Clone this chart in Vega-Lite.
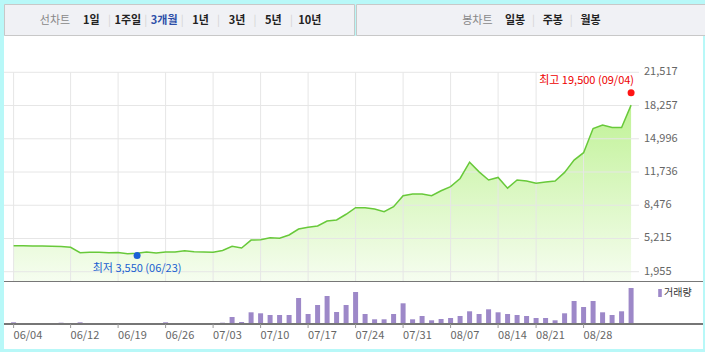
{
  "$schema": "https://vega.github.io/schema/vega-lite/v6.json",
  "background": "#b8f8f8",
  "padding": {"left": 3, "top": 3, "right": 3, "bottom": 3},
  "spacing": 0,
  "resolve": {"scale": {"color": "independent"}, "legend": {"color": "independent"}},
  "config": {"font": "Noto Sans CJK KR", "view": {"stroke": null}},
  "datasets": {
    "px": [
      {"i":0,"d":"06/04","p":4505,"v":170000},
      {"i":1,"d":"06/05","p":4500,"v":100000},
      {"i":2,"d":"06/08","p":4480,"v":100000},
      {"i":3,"d":"06/09","p":4470,"v":100000},
      {"i":4,"d":"06/10","p":4460,"v":100000},
      {"i":5,"d":"06/11","p":4430,"v":130000},
      {"i":6,"d":"06/12","p":4350,"v":100000},
      {"i":7,"d":"06/15","p":3820,"v":170000},
      {"i":8,"d":"06/16","p":3860,"v":100000},
      {"i":9,"d":"06/17","p":3860,"v":100000},
      {"i":10,"d":"06/18","p":3820,"v":100000},
      {"i":11,"d":"06/19","p":3840,"v":100000},
      {"i":12,"d":"06/22","p":3720,"v":100000},
      {"i":13,"d":"06/23","p":3760,"v":100000},
      {"i":14,"d":"06/24","p":3890,"v":100000},
      {"i":15,"d":"06/25","p":3790,"v":100000},
      {"i":16,"d":"06/26","p":3890,"v":170000},
      {"i":17,"d":"06/29","p":3890,"v":100000},
      {"i":18,"d":"06/30","p":4015,"v":100000},
      {"i":19,"d":"07/01","p":3920,"v":100000},
      {"i":20,"d":"07/02","p":3890,"v":100000},
      {"i":21,"d":"07/03","p":3860,"v":100000},
      {"i":22,"d":"07/06","p":4030,"v":130000},
      {"i":23,"d":"07/07","p":4450,"v":700000},
      {"i":24,"d":"07/08","p":4280,"v":200000},
      {"i":25,"d":"07/09","p":5060,"v":1170000},
      {"i":26,"d":"07/10","p":5090,"v":1070000},
      {"i":27,"d":"07/13","p":5290,"v":900000},
      {"i":28,"d":"07/14","p":5230,"v":900000},
      {"i":29,"d":"07/15","p":5560,"v":900000},
      {"i":30,"d":"07/16","p":6140,"v":2600000},
      {"i":31,"d":"07/17","p":6310,"v":1000000},
      {"i":32,"d":"07/20","p":6440,"v":1900000},
      {"i":33,"d":"07/21","p":6930,"v":2800000},
      {"i":34,"d":"07/22","p":7030,"v":1200000},
      {"i":35,"d":"07/23","p":7590,"v":1900000},
      {"i":36,"d":"07/24","p":8230,"v":3200000},
      {"i":37,"d":"07/27","p":8230,"v":1000000},
      {"i":38,"d":"07/28","p":8110,"v":470000},
      {"i":39,"d":"07/29","p":7840,"v":470000},
      {"i":40,"d":"07/30","p":8330,"v":1000000},
      {"i":41,"d":"07/31","p":9410,"v":2070000},
      {"i":42,"d":"08/03","p":9580,"v":470000},
      {"i":43,"d":"08/04","p":9580,"v":800000},
      {"i":44,"d":"08/05","p":9410,"v":370000},
      {"i":45,"d":"08/06","p":9900,"v":500000},
      {"i":46,"d":"08/07","p":10300,"v":600000},
      {"i":47,"d":"08/10","p":11100,"v":800000},
      {"i":48,"d":"08/11","p":12700,"v":1270000},
      {"i":49,"d":"08/12","p":11750,"v":1000000},
      {"i":50,"d":"08/13","p":10950,"v":1470000},
      {"i":51,"d":"08/14","p":11200,"v":1170000},
      {"i":52,"d":"08/18","p":10150,"v":1000000},
      {"i":53,"d":"08/19","p":10950,"v":900000},
      {"i":54,"d":"08/20","p":10850,"v":800000},
      {"i":55,"d":"08/21","p":10630,"v":600000},
      {"i":56,"d":"08/24","p":10750,"v":600000},
      {"i":57,"d":"08/25","p":10850,"v":370000},
      {"i":58,"d":"08/26","p":11700,"v":1070000},
      {"i":59,"d":"08/27","p":12900,"v":2300000},
      {"i":60,"d":"08/28","p":13630,"v":1700000},
      {"i":61,"d":"08/31","p":16000,"v":2300000},
      {"i":62,"d":"09/01","p":16350,"v":1170000},
      {"i":63,"d":"09/02","p":16100,"v":900000},
      {"i":64,"d":"09/03","p":16100,"v":1270000},
      {"i":65,"d":"09/04","p":18300,"v":3600000}
    ],
    "grid": [{"t":1955},{"t":5215.33},{"t":8475.67},{"t":11736},{"t":14996.33},{"t":18256.67},{"t":21517}],
    "ext": [
      {"i":65,"d":"09/04","p":19500,"k":"최고","lab":"최고 19,500 (09/04)"},
      {"i":13,"d":"06/23","p":3550,"k":"최저","lab":"최저 3,550 (06/23)"}
    ],
    "menuL": [
      {"t":"선차트","c":"label","sep":false},
      {"t":"1일","c":"item","sep":true},
      {"t":"1주일","c":"item","sep":true},
      {"t":"3개월","c":"sel","sep":true},
      {"t":"1년","c":"item","sep":true},
      {"t":"3년","c":"item","sep":true},
      {"t":"5년","c":"item","sep":true},
      {"t":"10년","c":"item","sep":false}
    ],
    "menuR": [
      {"t":"봉차트","c":"label","sep":false},
      {"t":"일봉","c":"item","sep":true},
      {"t":"주봉","c":"item","sep":true},
      {"t":"월봉","c":"item","sep":false}
    ]
  },
  "vconcat": [
    {
      "hconcat": [
        {
          "width": 350, "height": 31,
          "view": {"fill": "#f0f1f5", "stroke": "#c8c8c8"},
          "data": {"name": "menuL"},
          "encoding": {"x": {"field": "t", "type": "nominal", "sort": null, "scale": {"type": "point", "padding": 0, "range": [51, 305.8]}, "axis": null}},
          "layer": [
            {"transform": [{"filter": "datum.c === 'label'"}],
             "mark": {"type": "text", "fontSize": 11, "color": "#888", "dy": 1.5},
             "encoding": {"text": {"field": "t"}}},
            {"transform": [{"filter": "datum.c !== 'label'"}],
             "mark": {"type": "text", "fontSize": 11, "fontWeight": "bold", "dy": 1.5},
             "encoding": {"text": {"field": "t"}, "color": {"condition": {"test": "datum.c === 'sel'", "value": "#2d4ea8"}, "value": "#222"}}},
            {"transform": [{"filter": "datum.sep"}],
             "mark": {"type": "text", "fontSize": 11, "color": "#d4d4d4", "dx": 18, "dy": 1},
             "encoding": {"text": {"value": "|"}}}
          ]
        },
        {
          "width": 349, "height": 31,
          "view": {"fill": "#f0f1f5", "stroke": "#c8c8c8"},
          "data": {"name": "menuR"},
          "encoding": {"x": {"field": "t", "type": "nominal", "sort": null, "scale": {"type": "point", "padding": 0, "range": [121.4, 234.5]}, "axis": null}},
          "layer": [
            {"transform": [{"filter": "datum.c === 'label'"}],
             "mark": {"type": "text", "fontSize": 11, "color": "#888", "dy": 1.5},
             "encoding": {"text": {"field": "t"}}},
            {"transform": [{"filter": "datum.c !== 'label'"}],
             "mark": {"type": "text", "fontSize": 11, "fontWeight": "bold", "color": "#222", "dy": 1.5},
             "encoding": {"text": {"field": "t"}}},
            {"transform": [{"filter": "datum.sep"}],
             "mark": {"type": "text", "fontSize": 11, "color": "#d4d4d4", "dx": 18.5, "dy": 1},
             "encoding": {"text": {"value": "|"}}}
          ]
        }
      ],
      "spacing": 0
    },
    {
      "width": 699, "height": 246,
      "view": {"fill": "white", "stroke": null},
      "layer": [
        {
          "data": {"name": "px"},
          "mark": {"type": "area", "opacity": 1, "clip": true, "color": {"gradient": "linear", "x1": 0, "y1": 0, "x2": 0, "y2": 1, "stops": [{"offset": 0, "color": "#c0f296"}, {"offset": 1, "color": "#f6fdf0"}]}},
          "encoding": {
            "x": {"field": "i", "type": "quantitative", "scale": {"domain": [-1.0105, 72.57], "nice": false, "zero": false}, "axis": null},
            "y": {"field": "p", "type": "quantitative", "scale": {"domain": [945, 25078], "nice": false, "zero": false}, "axis": null},
            "y2": {"datum": 945}
          }
        },
        {
          "data": {"name": "grid"},
          "mark": {"type": "rule", "color": "#e6e6e6", "strokeWidth": 1, "clip": true},
          "encoding": {
            "y": {"field": "t", "type": "quantitative", "scale": {"domain": [945, 25078], "nice": false, "zero": false}, "axis": null},
            "x": {"datum": -1.0105, "scale": {"domain": [-1.0105, 72.57], "nice": false, "zero": false}, "axis": null},
            "x2": {"datum": 65.83}
          }
        },
        {
          "data": {"name": "grid"},
          "mark": {"type": "text", "align": "left", "baseline": "middle", "fontSize": 11, "color": "#666"},
          "encoding": {
            "y": {"field": "t", "type": "quantitative", "scale": {"domain": [945, 25078], "nice": false, "zero": false}, "axis": null},
            "x": {"datum": 66.36, "scale": {"domain": [-1.0105, 72.57], "nice": false, "zero": false}, "axis": null},
            "text": {"field": "t", "type": "quantitative", "format": ",.0f"}
          }
        },
        {
          "data": {"name": "px"},
          "transform": [{"filter": {"field": "d", "oneOf": ["06/04","06/12","06/19","06/26","07/03","07/10","07/17","07/24","07/31","08/07","08/14","08/21","08/28"]}}],
          "mark": {"type": "rule", "color": "#e6e6e6", "strokeWidth": 1, "clip": true},
          "encoding": {
            "x": {"field": "i", "type": "quantitative", "scale": {"domain": [-1.0105, 72.57], "nice": false, "zero": false}, "axis": null},
            "y": {"datum": 21517, "scale": {"domain": [945, 25078], "nice": false, "zero": false}, "axis": null},
            "y2": {"datum": 945}
          }
        },
        {
          "data": {"name": "px"},
          "mark": {"type": "rule", "color": "#777", "strokeWidth": 2, "clip": true},
          "encoding": {
            "x": {"datum": -1.0105, "scale": {"domain": [-1.0105, 72.57], "nice": false, "zero": false}, "axis": null},
            "x2": {"datum": 72.57},
            "y": {"datum": 945, "scale": {"domain": [945, 25078], "nice": false, "zero": false}, "axis": null}
          }
        },
        {
          "data": {"name": "px"},
          "mark": {"type": "line", "color": "#68c93a", "strokeWidth": 1.5, "clip": true},
          "encoding": {
            "x": {"field": "i", "type": "quantitative", "scale": {"domain": [-1.0105, 72.57], "nice": false, "zero": false}, "axis": null},
            "y": {"field": "p", "type": "quantitative", "scale": {"domain": [945, 25078], "nice": false, "zero": false}, "axis": null}
          }
        },
        {
          "data": {"name": "ext"},
          "transform": [{"filter": "datum.k === '최고'"}],
          "mark": {"type": "circle", "size": 49, "opacity": 1, "color": "#ff1414"},
          "encoding": {
            "x": {"field": "i", "type": "quantitative", "scale": {"domain": [-1.0105, 72.57], "nice": false, "zero": false}, "axis": null},
            "y": {"field": "p", "type": "quantitative", "scale": {"domain": [945, 25078], "nice": false, "zero": false}, "axis": null}
          }
        },
        {
          "data": {"name": "ext"},
          "transform": [{"filter": "datum.k === '최저'"}],
          "mark": {"type": "circle", "size": 49, "opacity": 1, "color": "#1b61d6"},
          "encoding": {
            "x": {"field": "i", "type": "quantitative", "scale": {"domain": [-1.0105, 72.57], "nice": false, "zero": false}, "axis": null},
            "y": {"field": "p", "type": "quantitative", "scale": {"domain": [945, 25078], "nice": false, "zero": false}, "axis": null}
          }
        },
        {
          "data": {"name": "ext"},
          "transform": [{"filter": "datum.k === '최고'"}],
          "mark": {"type": "text", "align": "right", "baseline": "middle", "dx": 3, "dy": -12, "fontSize": 11, "color": "#ee0000"},
          "encoding": {
            "x": {"field": "i", "type": "quantitative", "scale": {"domain": [-1.0105, 72.57], "nice": false, "zero": false}, "axis": null},
            "y": {"field": "p", "type": "quantitative", "scale": {"domain": [945, 25078], "nice": false, "zero": false}, "axis": null},
            "text": {"field": "lab"}
          }
        },
        {
          "data": {"name": "ext"},
          "transform": [{"filter": "datum.k === '최저'"}],
          "mark": {"type": "text", "align": "center", "baseline": "middle", "dy": 13.5, "fontSize": 11, "color": "#1a5fd0"},
          "encoding": {
            "x": {"field": "i", "type": "quantitative", "scale": {"domain": [-1.0105, 72.57], "nice": false, "zero": false}, "axis": null},
            "y": {"field": "p", "type": "quantitative", "scale": {"domain": [945, 25078], "nice": false, "zero": false}, "axis": null},
            "text": {"field": "lab"}
          }
        }
      ]
    },
    {
      "width": 699, "height": 67,
      "view": {"fill": "white", "stroke": null},
      "data": {"name": "px"},
      "layer": [
        {
          "mark": {"type": "rule", "color": "#9d88c8", "strokeWidth": 5},
          "encoding": {
            "x": {"field": "i", "type": "quantitative", "scale": {"domain": [-1.0105, 72.57], "nice": false, "zero": false}, "axis": null},
            "y": {"field": "v", "type": "quantitative", "scale": {"domain": [-2500000, 4200000], "nice": false, "zero": false}, "axis": null},
            "y2": {"datum": 0}
          }
        },
        {
          "mark": {"type": "rule", "color": "#777", "clip": true},
          "encoding": {
            "x": {"datum": -1.0105, "type": "quantitative", "scale": {"domain": [-1.0105, 72.57], "nice": false, "zero": false}, "axis": null},
            "x2": {"datum": 72.57},
            "y": {"datum": 0, "type": "quantitative", "scale": {"domain": [-2500000, 4200000], "nice": false, "zero": false}, "axis": null}
          }
        },
        {
          "transform": [{"filter": "false"}],
          "mark": {"type": "square", "filled": true},
          "encoding": {
            "x": {"field": "i", "type": "quantitative", "scale": {"domain": [-1.0105, 72.57], "nice": false, "zero": false}, "axis": null},
            "y": {"field": "v", "type": "quantitative", "scale": {"domain": [-2500000, 4200000], "nice": false, "zero": false}, "axis": null},
            "color": {"datum": "거래량", "type": "nominal", "scale": {"range": ["#9d88c8"]},
                      "legend": {"orient": "none", "legendX": 651, "legendY": 6, "padding": 0, "title": null, "symbolType": "M-0.45,-1H0.45V1H-0.45Z", "symbolSize": 64, "symbolStrokeWidth": 0, "symbolOpacity": 1, "labelFontSize": 10, "labelColor": "#333", "labelOffset": -1}}
          }
        },
        {
          "transform": [{"filter": {"field": "d", "oneOf": ["06/04","06/12","06/19","06/26","07/03","07/10","07/17","07/24","07/31","08/07","08/14","08/21","08/28"]}}],
          "mark": {"type": "rule", "color": "#999"},
          "encoding": {
            "x": {"field": "i", "type": "quantitative", "scale": {"domain": [-1.0105, 72.57], "nice": false, "zero": false}, "axis": null},
            "y": {"datum": 0, "type": "quantitative", "scale": {"domain": [-2500000, 4200000], "nice": false, "zero": false}, "axis": null},
            "y2": {"datum": -400000}
          }
        },
        {
          "transform": [{"filter": {"field": "d", "oneOf": ["06/04","06/12","06/19","06/26","07/03","07/10","07/17","07/24","07/31","08/07","08/14","08/21","08/28"]}}],
          "mark": {"type": "text", "align": "left", "baseline": "middle", "dy": 12, "fontSize": 11, "color": "#666"},
          "encoding": {
            "x": {"field": "i", "type": "quantitative", "scale": {"domain": [-1.0105, 72.57], "nice": false, "zero": false}, "axis": null},
            "y": {"datum": 0, "type": "quantitative", "scale": {"domain": [-2500000, 4200000], "nice": false, "zero": false}, "axis": null},
            "text": {"field": "d"}
          }
        }
      ]
    }
  ]
}
